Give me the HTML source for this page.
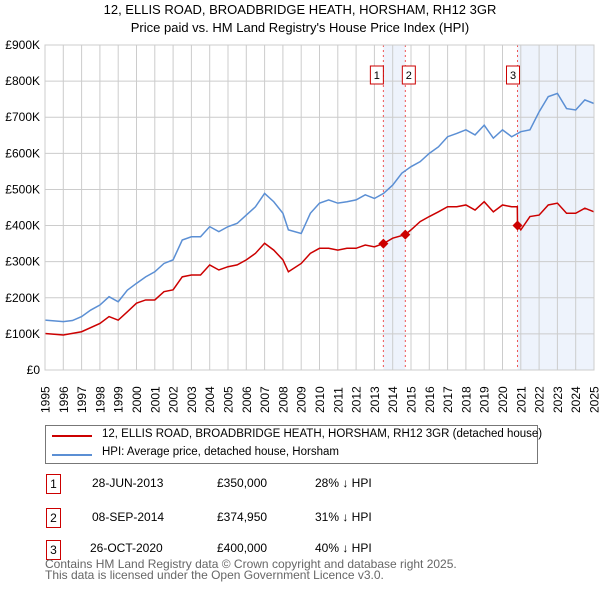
<!DOCTYPE html>
<html><head><meta charset="utf-8"><style>
body{margin:0;background:#fff;font-family:"Liberation Sans","DejaVu Sans",sans-serif;}
#wrap{position:relative;width:600px;height:590px;overflow:hidden;}
.t{position:absolute;white-space:nowrap;font-size:12px;color:#000;}
.box{position:absolute;border:1px solid #c00;width:13px;height:18px;font-size:12px;text-align:center;line-height:18px;}
</style></head><body><div id="wrap">
<div class="t" style="left:0;width:600px;text-align:center;top:2px;font-size:13px">12, ELLIS ROAD, BROADBRIDGE HEATH, HORSHAM, RH12 3GR</div>
<div class="t" style="left:0;width:600px;text-align:center;top:20px;font-size:13px">Price paid vs. HM Land Registry's House Price Index (HPI)</div>
<svg id="chart" width="600" height="420" style="position:absolute;left:0;top:0"></svg>
<div style="position:absolute;left:45px;top:425px;width:491px;height:37px;border:1px solid #777;">
<div style="position:absolute;left:6px;top:9px;width:40px;height:2px;background:#c00"></div>
<div class="t" style="left:56px;top:2px;font-size:11.5px">12, ELLIS ROAD, BROADBRIDGE HEATH, HORSHAM, RH12 3GR (detached house)</div>
<div style="position:absolute;left:6px;top:28px;width:40px;height:2px;background:#5b8fd4"></div>
<div class="t" style="left:56px;top:20px;font-size:11.5px">HPI: Average price, detached house, Horsham</div>
</div>
<div>
<div class="box" style="left:46px;top:474px">1</div>
<div class="t" style="left:92px;top:476px">28-JUN-2013</div>
<div class="t" style="left:217px;top:476px">£350,000</div>
<div class="t" style="left:315px;top:476px">28% ↓ HPI</div>
<div class="box" style="left:46px;top:508px">2</div>
<div class="t" style="left:92px;top:510px">08-SEP-2014</div>
<div class="t" style="left:217px;top:510px">£374,950</div>
<div class="t" style="left:315px;top:510px">31% ↓ HPI</div>
<div class="box" style="left:46px;top:540px">3</div>
<div class="t" style="left:90px;top:541px">26-OCT-2020</div>
<div class="t" style="left:217px;top:541px">£400,000</div>
<div class="t" style="left:315px;top:541px">40% ↓ HPI</div>
</div>
<div class="t" style="left:45px;top:559px;color:#666;line-height:11px">Contains HM Land Registry data © Crown copyright and database right 2025.<br>This data is licensed under the Open Government Licence v3.0.</div>
</div>
<script>
const hpiYears=[1995,1996,1996.5,1997,1997.5,1998,1998.5,1999,1999.5,2000,2000.5,2001,2001.5,2002,2002.5,2003,2003.5,2004,2004.5,2005,2005.5,2006,2006.5,2007,2007.5,2008,2008.3,2009,2009.5,2010,2010.5,2011,2011.5,2012,2012.5,2013,2013.5,2014,2014.5,2015,2015.5,2016,2016.5,2017,2017.5,2018,2018.5,2019,2019.5,2020,2020.5,2021,2021.5,2022,2022.5,2023,2023.5,2024,2024.5,2025];
const hpiValues=[138,134,137,148,166,180,203,189,221,240,258,272,295,305,360,369,369,397,383,397,406,429,452,489,466,434,388,378,434,462,471,462,466,471,485,475,489,512,545,563,577,600,618,646,655,665,651,678,642,665,646,660,665,715,757,766,724,720,748,738];
const propYears=[1995,1996,1997,1998,1998.5,1999,1999.5,2000,2000.5,2001,2001.5,2002,2002.5,2003,2003.5,2004,2004.5,2005,2005.5,2006,2006.5,2007,2007.5,2008,2008.3,2009,2009.5,2010,2010.5,2011,2011.5,2012,2012.5,2013,2013.49,2014,2014.69,2015,2015.5,2016,2016.5,2017,2017.5,2018,2018.5,2019,2019.5,2020,2020.5,2020.81,2020.82,2021,2021.5,2022,2022.5,2023,2023.5,2024,2024.5,2025];
const propValues=[101,97,106,129,148,138,161,185,194,194,217,222,258,263,263,291,277,286,291,305,323,351,332,305,272,295,323,337,337,332,337,337,346,341,350,365,375,388,411,425,438,452,452,457,443,466,438,457,452,452,400,388,425,429,457,462,434,434,448,438];
const saleYears=[2013.49,2014.69,2020.82];
const saleValues=[350,374.95,400];
const saleLabels=["1","2","3"];
const yTicks=[0,100,200,300,400,500,600,700,800,900];
const yTickLabels=["£0","£100K","£200K","£300K","£400K","£500K","£600K","£700K","£800K","£900K"];
const xTicks=[1995,1996,1997,1998,1999,2000,2001,2002,2003,2004,2005,2006,2007,2008,2009,2010,2011,2012,2013,2014,2015,2016,2017,2018,2019,2020,2021,2022,2023,2024,2025];
const L=45,R=594,T=45,B=370;
const xs=y=>L+(y-1995)/30*(R-L);
const ys=v=>B-v/900*(B-T);
const svg=document.getElementById('chart');
const NS='http://www.w3.org/2000/svg';
function mk(tag,attrs){const e=document.createElementNS(NS,tag);for(const k in attrs)e.setAttribute(k,attrs[k]);svg.appendChild(e);return e;}
let e;
e=mk('rect',{x:xs(saleYears[0]),y:T,width:xs(saleYears[1])-xs(saleYears[0]),height:B-T,fill:'#eef3fc'});


e=mk('rect',{x:xs(saleYears[2]),y:T,width:R-xs(saleYears[2]),height:B-T,fill:'#eef3fc'});


yTicks.forEach((v,i)=>{
 e=mk('line',{x1:L,x2:R,y1:ys(v),y2:ys(v),stroke:'#ccc','stroke-width':1});
 
 
 e=mk('text',{x:L-5,y:ys(v)+4,'text-anchor':'end','font-size':12,fill:'#000','font-family':'Liberation Sans, sans-serif'});
 e.textContent=yTickLabels[i];
 
 
});
xTicks.forEach(y=>{
 e=mk('line',{x1:xs(y),x2:xs(y),y1:T,y2:B,stroke:'#ccc','stroke-width':1});
 
 
 const tx=xs(y)+4.5, ty=B+43;
 e=mk('text',{x:tx,y:ty,transform:`rotate(-90 ${tx} ${ty})`,'text-anchor':'start','font-size':12,fill:'#000','font-family':'Liberation Sans, sans-serif'});
 e.textContent=String(y);
 
 
});
saleYears.forEach((y,i)=>{
 e=mk('line',{x1:xs(y),x2:xs(y),y1:T,y2:B,stroke:'#e55','stroke-width':1,'stroke-dasharray':'2,3'});
 
 
});
e=mk('polyline',{points:hpiYears.map((y,i)=>xs(y)+','+ys(hpiValues[i])).join(' '),fill:'none',stroke:'#5b8fd4','stroke-width':1.5});


e=mk('polyline',{points:propYears.map((y,i)=>xs(y)+','+ys(propValues[i])).join(' '),fill:'none',stroke:'#cc0000','stroke-width':1.5});


saleYears.forEach((y,i)=>{
 const cx=xs(y),cy=ys(saleValues[i]);
 e=mk('polygon',{points:`${cx},${cy-5} ${cx+5},${cy} ${cx},${cy+5} ${cx-5},${cy}`,fill:'#cc0000'});
 
 
 e=mk('rect',{x:cx-11+(i==1?8:0)-(i==0?2:0),y:66,width:13,height:18,fill:'#fff',stroke:'#c00','stroke-width':1});
 
 
 e=mk('text',{x:cx-4.5+(i==1?8:0)-(i==0?2:0),y:79,'text-anchor':'middle','font-size':11,fill:'#000','font-family':'Liberation Sans, sans-serif'});
 e.textContent=saleLabels[i];
 
 
});
e=mk('rect',{x:L,y:T,width:R-L,height:B-T,fill:'none',stroke:'#ccc','stroke-width':1});


</script>
</body></html>
